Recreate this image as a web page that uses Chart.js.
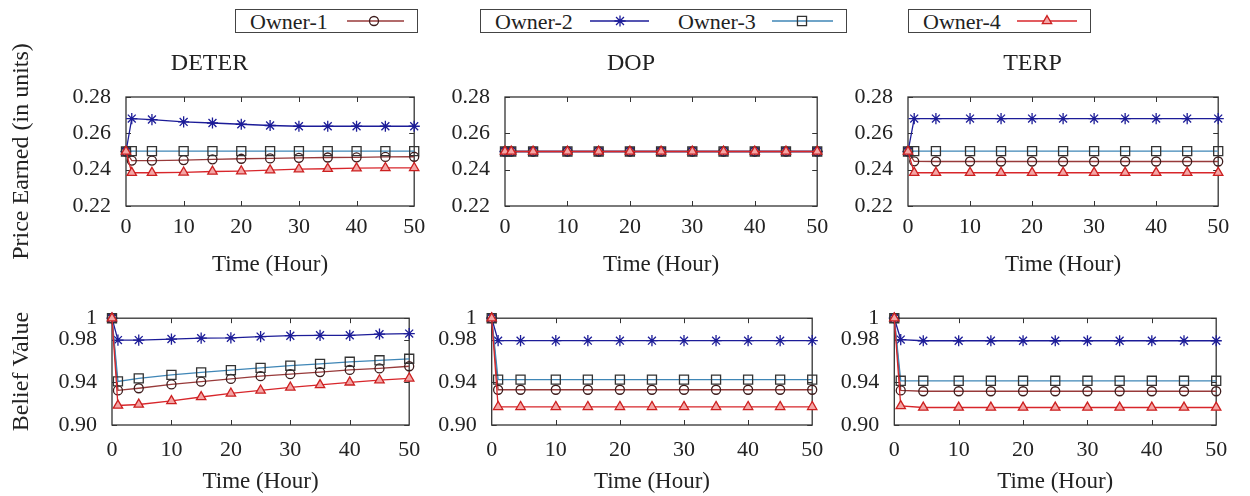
<!DOCTYPE html>
<html>
<head>
<meta charset="utf-8">
<script src="https://cdn.jsdelivr.net/npm/chart.js@4.4.1/dist/chart.umd.min.js"></script>
<style>
  html, body { margin: 0; padding: 0; background: #fff; }
  body { width: 1250px; height: 496px; position: relative; overflow: hidden;
         font-family: 'Liberation Serif', 'Times New Roman', serif; color: #222; }
  .pane { position: absolute; }
  .pane canvas { display: block; }
  .lgbox { position: absolute; top: 9px; height: 22px; border: 1.5px solid #444; box-sizing: content-box; }
  .lgtxt { position: absolute; top: 9px; height: 25px; line-height: 25px; font-size: 22px; color: #222; white-space: nowrap; }
  #legendSamples { position: absolute; left: 0; top: 0; }
</style>
</head>
<body>

<div class="lgbox" style="left:235px;width:181px"></div>
<div class="lgbox" style="left:480px;width:365px"></div>
<div class="lgbox" style="left:908px;width:181px"></div>
<span class="lgtxt" style="left:250px">Owner-1</span>
<span class="lgtxt" style="left:495px">Owner-2</span>
<span class="lgtxt" style="left:678px">Owner-3</span>
<span class="lgtxt" style="left:923px">Owner-4</span>
<canvas id="legendSamples" width="1250" height="40"></canvas>

<div class="pane" style="left:0px;top:40px"><canvas id="pDeter" width="433" height="245"></canvas></div>
<div class="pane" style="left:440px;top:40px"><canvas id="pDop" width="396" height="245"></canvas></div>
<div class="pane" style="left:842px;top:40px"><canvas id="pTerp" width="395" height="245"></canvas></div>
<div class="pane" style="left:0px;top:290px"><canvas id="bDeter" width="432" height="206"></canvas></div>
<div class="pane" style="left:434px;top:290px"><canvas id="bDop" width="401" height="206"></canvas></div>
<div class="pane" style="left:836px;top:290px"><canvas id="bTerp" width="403" height="206"></canvas></div>

<script>
// ─── Data ───
const owners = ['Owner-1', 'Owner-2', 'Owner-3', 'Owner-4'];
const hours = [0, 1, 4.5, 10, 15, 20, 25, 30, 35, 40, 45, 50];
const hourTicks = [0, 10, 20, 30, 40, 50];
const priceTicks = [0.22, 0.24, 0.26, 0.28];
const beliefTicks = [0.90, 0.94, 0.98, 1];

// price earned
const priceDeter1 = [0.25, 0.2450, 0.2450, 0.2453, 0.2457, 0.2460, 0.2462, 0.2465, 0.2467, 0.2468, 0.2470, 0.2471];
const priceDeter2 = [0.25, 0.2681, 0.2676, 0.2663, 0.2657, 0.2650, 0.2643, 0.2639, 0.2639, 0.2639, 0.2639, 0.2639];
const priceDeter3 = [0.25, 0.2502, 0.2502, 0.2502, 0.2502, 0.2502, 0.2502, 0.2502, 0.2502, 0.2502, 0.2502, 0.2502];
const priceDeter4 = [0.25, 0.2383, 0.2383, 0.2385, 0.2390, 0.2392, 0.2397, 0.2403, 0.2405, 0.2408, 0.2410, 0.2410];

const priceDop1 = [0.25, 0.25, 0.25, 0.25, 0.25, 0.25, 0.25, 0.25, 0.25, 0.25, 0.25, 0.25];
const priceDop2 = [0.25, 0.25, 0.25, 0.25, 0.25, 0.25, 0.25, 0.25, 0.25, 0.25, 0.25, 0.25];
const priceDop3 = [0.25, 0.25, 0.25, 0.25, 0.25, 0.25, 0.25, 0.25, 0.25, 0.25, 0.25, 0.25];
const priceDop4 = [0.25, 0.25, 0.25, 0.25, 0.25, 0.25, 0.25, 0.25, 0.25, 0.25, 0.25, 0.25];

const priceTerp1 = [0.25, 0.2446, 0.2445, 0.2445, 0.2445, 0.2445, 0.2445, 0.2445, 0.2445, 0.2445, 0.2445, 0.2445];
const priceTerp2 = [0.25, 0.2681, 0.2681, 0.2681, 0.2681, 0.2681, 0.2681, 0.2681, 0.2681, 0.2681, 0.2681, 0.2681];
const priceTerp3 = [0.25, 0.2502, 0.2502, 0.2502, 0.2502, 0.2502, 0.2502, 0.2502, 0.2502, 0.2502, 0.2502, 0.2502];
const priceTerp4 = [0.25, 0.2383, 0.2383, 0.2383, 0.2383, 0.2383, 0.2383, 0.2383, 0.2383, 0.2383, 0.2383, 0.2383];

// belief value
const beliefDeter1 = [1, 0.9324, 0.9344, 0.9380, 0.9406, 0.9431, 0.9457, 0.9476, 0.9496, 0.9516, 0.9530, 0.9550];
const beliefDeter2 = [1, 0.9795, 0.9795, 0.9805, 0.9813, 0.9816, 0.9828, 0.9836, 0.9840, 0.9840, 0.9850, 0.9856];
const beliefDeter3 = [1, 0.9408, 0.9437, 0.9470, 0.9493, 0.9513, 0.9535, 0.9555, 0.9572, 0.9592, 0.9606, 0.9620];
const beliefDeter4 = [1, 0.9183, 0.9192, 0.9225, 0.9262, 0.9296, 0.9324, 0.9352, 0.9375, 0.9400, 0.9420, 0.9437];

const beliefDop1 = [1, 0.9330, 0.9330, 0.9330, 0.9330, 0.9330, 0.9330, 0.9330, 0.9330, 0.9330, 0.9330, 0.9330];
const beliefDop2 = [1, 0.9790, 0.9790, 0.9790, 0.9790, 0.9790, 0.9790, 0.9790, 0.9790, 0.9790, 0.9790, 0.9790];
const beliefDop3 = [1, 0.9425, 0.9425, 0.9425, 0.9425, 0.9425, 0.9425, 0.9425, 0.9425, 0.9425, 0.9425, 0.9425];
const beliefDop4 = [1, 0.9170, 0.9170, 0.9170, 0.9170, 0.9170, 0.9170, 0.9170, 0.9170, 0.9170, 0.9170, 0.9170];

const beliefTerp1 = [1, 0.9324, 0.9316, 0.9316, 0.9316, 0.9316, 0.9316, 0.9316, 0.9316, 0.9316, 0.9316, 0.9316];
const beliefTerp2 = [1, 0.9800, 0.9789, 0.9789, 0.9789, 0.9789, 0.9789, 0.9789, 0.9789, 0.9789, 0.9789, 0.9789];
const beliefTerp3 = [1, 0.9414, 0.9414, 0.9414, 0.9414, 0.9414, 0.9414, 0.9414, 0.9414, 0.9414, 0.9414, 0.9414];
const beliefTerp4 = [1, 0.9178, 0.9164, 0.9164, 0.9164, 0.9164, 0.9164, 0.9164, 0.9164, 0.9164, 0.9164, 0.9164];

// ─── Styles ───
const SERIF = "'Liberation Serif', 'Times New Roman', serif";
const TXT = '#222';
const styles = [
    { line: '#983a3a', point: '#3d1c1c', fill: 'rgba(0,0,0,0)', shape: 'circle',   r: 4.5 },
    { line: '#1c1c98', point: '#1c1c98', fill: 'rgba(0,0,0,0)', shape: 'star',     r: 5.6 },
    { line: '#3f86b6', point: '#333333', fill: 'rgba(0,0,0,0)', shape: 'rect',     r: 6.4 },
    { line: '#d8262b', point: '#cc2020', fill: '#f4a6a6',       shape: 'triangle', r: 5.4 },
];

// ─── Frame + inward ticks (gnuplot look) ───
const framePlugin = {
    id: 'frame',
    beforeDatasetsDraw(chart) {
        const { ctx, chartArea: a, scales: { x, y } } = chart;
        ctx.save();
        ctx.strokeStyle = '#333';
        ctx.lineWidth = 1.3;
        ctx.strokeRect(a.left, a.top, a.right - a.left, a.bottom - a.top);
        ctx.beginPath();
        x.ticks.forEach(t => {
            if (t.value <= x.min || t.value >= x.max) return;
            const px = Math.round(x.getPixelForValue(t.value)) + 0.5;
            ctx.moveTo(px, a.bottom); ctx.lineTo(px, a.bottom - 5);
            ctx.moveTo(px, a.top); ctx.lineTo(px, a.top + 5);
        });
        y.ticks.forEach(t => {
            const py = Math.round(y.getPixelForValue(t.value)) + 0.5;
            ctx.moveTo(a.left, py); ctx.lineTo(a.left + 5, py);
            ctx.moveTo(a.right, py); ctx.lineTo(a.right - 5, py);
        });
        ctx.lineWidth = 1;
        ctx.stroke();
        ctx.restore();
    }
};

function makeDatasets(series) {
    return series.map((vals, i) => ({
        label: owners[i],
        data: hours.map((h, k) => ({ x: h, y: vals[k] })),
        borderColor: styles[i].line,
        borderWidth: 1.3,
        pointStyle: styles[i].shape,
        pointRadius: styles[i].r,
        pointBorderColor: styles[i].point,
        pointBackgroundColor: styles[i].fill,
        pointBorderWidth: 1.3,
        tension: 0,
        clip: false,
        order: 4 - i,
    }));
}

function makeChart(p) {
    const yTicks = p.kind === 'price' ? priceTicks : beliefTicks;
    return new Chart(document.getElementById(p.id), {
        type: 'line',
        data: { datasets: makeDatasets(p.series) },
        plugins: [framePlugin],
        options: {
            responsive: false,
            animation: false,
            events: [],
            layout: { padding: { top: p.padTop, right: 14, left: 0, bottom: 0 } },
            plugins: {
                legend: { display: false },
                tooltip: { enabled: false },
                title: {
                    display: !!p.title,
                    text: p.title || '',
                    color: TXT,
                    font: { family: SERIF, size: 24, weight: 'normal' },
                    padding: { top: 9, bottom: 19.2 },
                },
            },
            scales: {
                x: {
                    type: 'linear', min: 0, max: 50,
                    afterBuildTicks: s => { s.ticks = hourTicks.map(v => ({ value: v })); },
                    afterFit: s => { s.height = p.xh; },
                    grid: { display: false, drawTicks: false },
                    border: { display: false },
                    ticks: { color: TXT, padding: p.xTickPad, maxRotation: 0,
                             font: { family: SERIF, size: 22 }, callback: v => String(v) },
                    title: { display: true, text: 'Time (Hour)', color: TXT,
                             font: { family: SERIF, size: 23 }, padding: { top: 0, bottom: p.xTitlePad } },
                },
                y: {
                    min: yTicks[0], max: yTicks[yTicks.length - 1],
                    afterBuildTicks: s => { s.ticks = yTicks.map(v => ({ value: v })); },
                    afterFit: s => { s.width = p.yw; },
                    grid: { display: false, drawTicks: false },
                    border: { display: false },
                    ticks: { color: TXT, padding: 15, font: { family: SERIF, size: 22 },
                             callback: v => v === 1 ? '1' : v.toFixed(2) },
                    title: { display: !!p.ytitle, text: p.ytitle || '', color: TXT,
                             font: { family: SERIF, size: 24 }, padding: { top: 7.6, bottom: 0 } },
                },
            },
        },
    });
}

// ─── Panels ───
const topRow = { padTop: 0, xh: 79, xTickPad: 7.8, xTitlePad: 6.2, kind: 'price' };
const botRow = { padTop: 16.5, xh: 71, xTickPad: 11.8, xTitlePad: 0, kind: 'belief' };

const panels = [
    { ...topRow, id: 'pDeter', yw: 126, title: 'DETER', ytitle: 'Price Earned (in units)',
      series: [priceDeter1, priceDeter2, priceDeter3, priceDeter4] },
    { ...topRow, id: 'pDop', yw: 65, title: 'DOP',
      series: [priceDop1, priceDop2, priceDop3, priceDop4] },
    { ...topRow, id: 'pTerp', yw: 66, title: 'TERP',
      series: [priceTerp1, priceTerp2, priceTerp3, priceTerp4] },
    { ...botRow, id: 'bDeter', yw: 112, ytitle: 'Belief Value',
      series: [beliefDeter1, beliefDeter2, beliefDeter3, beliefDeter4] },
    { ...botRow, id: 'bDop', yw: 57.7,
      series: [beliefDop1, beliefDop2, beliefDop3, beliefDop4] },
    { ...botRow, id: 'bTerp', yw: 58.3,
      series: [beliefTerp1, beliefTerp2, beliefTerp3, beliefTerp4] },
];
panels.forEach(makeChart);

// ─── Legend samples (line + marker) ───
const legendSlots = [
    { x1: 347, x2: 404, mx: 374 },
    { x1: 590, x2: 649, mx: 620 },
    { x1: 772, x2: 833, mx: 802 },
    { x1: 1017, x2: 1077, mx: 1047 },
];
(function drawLegend() {
    const ctx = document.getElementById('legendSamples').getContext('2d');
    const ly = 21;
    legendSlots.forEach((s, i) => {
        const st = styles[i];
        ctx.save();
        ctx.strokeStyle = st.line;
        ctx.lineWidth = 1.3;
        ctx.beginPath();
        ctx.moveTo(s.x1, ly); ctx.lineTo(s.x2, ly);
        ctx.stroke();
        ctx.strokeStyle = st.point;
        ctx.fillStyle = st.fill;
        ctx.lineWidth = 1.3;
        Chart.helpers.drawPoint(ctx, { pointStyle: st.shape, radius: st.r, rotation: 0, borderWidth: 1.3 }, s.mx, ly);
        ctx.restore();
    });
})();
</script>
</body>
</html>
